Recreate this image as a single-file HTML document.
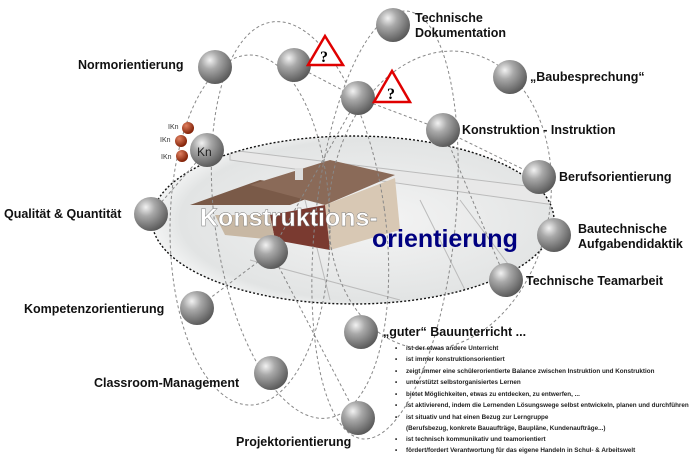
<!DOCTYPE html>
<html><head><meta charset="utf-8"><style>
html,body{margin:0;padding:0;background:#fff;}
body{width:700px;height:456px;overflow:hidden;position:relative;font-family:"Liberation Sans",sans-serif;}
svg{position:absolute;left:0;top:0;}
.l{font-weight:bold;font-size:12.5px;fill:#111;}
.b{font-size:6.3px;fill:#222;font-weight:bold;}
</style></head><body>
<svg width="700" height="456" viewBox="0 0 700 456">
<defs>
<radialGradient id="sp" cx="0.35" cy="0.3" r="0.75">
<stop offset="0" stop-color="#f2f2f2"/><stop offset="0.35" stop-color="#a9a9a9"/><stop offset="1" stop-color="#555"/>
</radialGradient>
<radialGradient id="rs" cx="0.35" cy="0.3" r="0.75">
<stop offset="0" stop-color="#e08060"/><stop offset="1" stop-color="#7a1a00"/>
</radialGradient>
<radialGradient id="bg" cx="0.55" cy="0.5" r="0.6">
<stop offset="0" stop-color="#f4f4f4"/><stop offset="0.8" stop-color="#e2e4e4"/><stop offset="1" stop-color="#fff"/>
</radialGradient>
<clipPath id="ec"><ellipse cx="353" cy="220" rx="201" ry="84"/></clipPath>
</defs>
<!-- central ellipse -->
<ellipse cx="353" cy="220" rx="201" ry="84" fill="url(#bg)"/>
<g clip-path="url(#ec)" stroke="#bbb" stroke-width="1" fill="none">
<path d="M230 150 L560 190 L555 205 L230 160Z" fill="#e8e8e8"/>
<path d="M420 200 L470 300 M460 200 L520 280 M250 260 L400 300 M300 180 L330 300"/>
</g>
<!-- house -->
<polygon points="190,205 260,180 330,190 290,205" fill="#7a5a48"/>
<polygon points="250,185 330,160 395,175 325,205" fill="#8a6a58"/>
<polygon points="325,205 395,178 400,230 330,250" fill="#d8c8b4"/>
<polygon points="270,215 325,205 330,250 275,240" fill="#7a3a30"/>
<polygon points="215,215 270,215 275,240 225,235" fill="#c8b8a4"/>
<rect x="295" y="168" width="8" height="12" fill="#ddd"/>
<ellipse cx="353" cy="220" rx="201" ry="84" fill="none" stroke="#111" stroke-width="1.4" stroke-dasharray="2,2"/>
<!-- dashed orbits -->
<g fill="none" stroke="#888" stroke-width="1" stroke-dasharray="3,2.5">
<ellipse cx="300" cy="220" rx="85" ry="200" transform="rotate(-8 300 220)"/>
<ellipse cx="385" cy="225" rx="70" ry="215" transform="rotate(6 385 225)"/>
<ellipse cx="250" cy="230" rx="80" ry="175"/>
<ellipse cx="440" cy="200" rx="110" ry="150" transform="rotate(10 440 200)"/>
<path d="M294 65 L358 98 L443 130 L539 177"/>
<path d="M358 98 L271 252 L197 308"/>
<path d="M443 130 L506 280"/>
<path d="M271 252 L358 418"/>
<path d="M207 150 L151 214"/>
</g>
<text x="200" y="226" font-size="25" font-weight="bold" fill="#fff" stroke="#777" stroke-width="0.4">Konstruktions-</text>
<text x="372" y="247" font-size="25" font-weight="bold" fill="#000080">orientierung</text>
<!-- spheres -->
<g fill="url(#sp)">
<circle cx="215" cy="67" r="17"/><circle cx="294" cy="65" r="17"/><circle cx="393" cy="25" r="17"/>
<circle cx="358" cy="98" r="17"/><circle cx="510" cy="77" r="17"/><circle cx="443" cy="130" r="17"/>
<circle cx="207" cy="150" r="17"/><circle cx="539" cy="177" r="17"/><circle cx="151" cy="214" r="17"/>
<circle cx="554" cy="235" r="17"/><circle cx="271" cy="252" r="17"/><circle cx="506" cy="280" r="17"/>
<circle cx="197" cy="308" r="17"/><circle cx="361" cy="332" r="17"/><circle cx="271" cy="373" r="17"/>
<circle cx="358" cy="418" r="17"/>
</g>
<g fill="url(#rs)"><circle cx="188" cy="128" r="6"/><circle cx="181" cy="141" r="6"/><circle cx="182" cy="156" r="6"/></g>
<text x="197" y="156" font-size="12" fill="#222">Kn</text>
<g font-size="7" fill="#333"><text x="168" y="129">IKn</text><text x="160" y="142">IKn</text><text x="161" y="159">IKn</text></g>
<!-- warnings -->
<g stroke="#e00000" stroke-width="2.5" fill="#fff" stroke-linejoin="miter">
<polygon points="325,36 308,65 343,65"/><polygon points="392,71 374,102 410,102"/>
</g>
<text x="320" y="62" font-size="16" font-weight="bold" font-family="Liberation Serif,serif">?</text>
<text x="387" y="99" font-size="16" font-weight="bold" font-family="Liberation Serif,serif">?</text>
<!-- labels -->
<text class="l" x="78" y="69">Normorientierung</text>
<text class="l" x="415" y="22">Technische</text>
<text class="l" x="415" y="37">Dokumentation</text>
<text class="l" x="530" y="81">„Baubesprechung“</text>
<text class="l" x="462" y="134">Konstruktion - Instruktion</text>
<text class="l" x="559" y="181">Berufsorientierung</text>
<text class="l" x="4" y="218">Qualität &amp; Quantität</text>
<text class="l" x="578" y="233">Bautechnische</text>
<text class="l" x="578" y="248">Aufgabendidaktik</text>
<text class="l" x="526" y="285">Technische Teamarbeit</text>
<text class="l" x="24" y="313">Kompetenzorientierung</text>
<text class="l" x="383" y="336">„guter“ Bauunterricht ...</text>
<text class="l" x="94" y="387">Classroom-Management</text>
<text class="l" x="236" y="446">Projektorientierung</text>
<!-- bullets -->
<g class="b">
<text x="395" y="350">•</text><text x="406" y="350">ist der etwas andere Unterricht</text>
<text x="395" y="361">•</text><text x="406" y="361">ist immer konstruktionsorientiert</text>
<text x="395" y="373">•</text><text x="406" y="373">zeigt immer eine schülerorientierte Balance zwischen Instruktion und Konstruktion</text>
<text x="395" y="384">•</text><text x="406" y="384">unterstützt selbstorganisiertes Lernen</text>
<text x="395" y="396">•</text><text x="406" y="396">bietet Möglichkeiten, etwas zu entdecken, zu entwerfen, ...</text>
<text x="395" y="407">•</text><text x="406" y="407">ist aktivierend, indem die Lernenden Lösungswege selbst entwickeln, planen und durchführen</text>
<text x="395" y="419">•</text><text x="406" y="419">ist situativ und hat einen Bezug zur Lerngruppe</text>
<text x="406" y="430">(Berufsbezug, konkrete Bauaufträge, Baupläne, Kundenaufträge...)</text>
<text x="395" y="441">•</text><text x="406" y="441">ist technisch kommunikativ und teamorientiert</text>
<text x="395" y="452">•</text><text x="406" y="452">fördert/fordert Verantwortung für das eigene Handeln in Schul- &amp; Arbeitswelt</text>
</g>
</svg>
</body></html>
